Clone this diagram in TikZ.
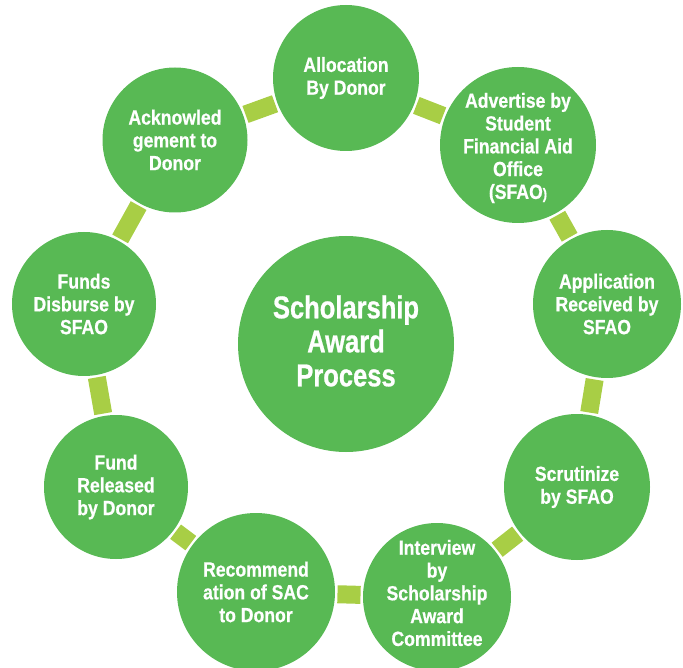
\documentclass[tikz,border=0pt]{standalone}
\usepackage{fontspec}
\newfontfamily\outfont{Liberation Sans Bold}[FakeStretch=0.86,FakeBold=0.6]
\newfontfamily\cenfont{Liberation Sans Bold}[FakeStretch=0.81,FakeBold=0.8]
\usetikzlibrary{backgrounds}
\definecolor{bubgreen}{RGB}{88,185,84}
\definecolor{connlime}{RGB}{168,206,69}
\tikzset{
  bub/.style={circle, fill=bubgreen, inner sep=0pt, outer sep=0pt, minimum size=#1},
  bubtext/.style={text=white, align=center, inner sep=0pt, font=\outfont\fontsize{20.5}{22.8}\selectfont},
  centext/.style={text=white, align=center, inner sep=0pt, font=\cenfont\fontsize{31.5}{34}\selectfont},
  conn/.style={draw=connlime, line width=18pt, shorten <=2.5pt, shorten >=2.5pt}
}
\begin{document}
\begin{tikzpicture}[x=1pt,y=-1pt]
\useasboundingbox (0,0) rectangle (683,668);
% circles
\node[bub=146pt] (c1) at (346,78) {};
\node[bub=156pt] (c2) at (518,145) {};
\node[bub=148pt] (c3) at (607,304) {};
\node[bub=146pt] (c4) at (577,487) {};
\node[bub=148pt] (c5) at (437,597) {};
\node[bub=158pt] (c6) at (256,592) {};
\node[bub=144pt] (c7) at (116,487) {};
\node[bub=144pt] (c8) at (84,304) {};
\node[bub=145pt] (c9) at (175,140) {};
\node[bub=216pt] (c0) at (346,344) {};
% texts
\node[bubtext] (t1) at (c1) {Allocation\\By Donor};
\node[bubtext] (t2) at ([yshift=-3pt]c2) {Advertise by\\Student\\Financial Aid\\Office\\(SFAO{\fontsize{15}{15}\selectfont)}};
\node[bubtext] (t3) at (c3) {Application\\Received by\\SFAO};
\node[bubtext] (t4) at (c4) {Scrutinize\\by SFAO};
\node[bubtext] (t5) at ([yshift=4pt]c5) {Interview\\by\\Scholarship\\Award\\Committee};
\node[bubtext] (t6) at (c6) {Recommend\\ation of SAC\\to Donor};
\node[bubtext] (t7) at (c7) {Fund\\Released\\by Donor};
\node[bubtext] (t8) at (c8) {Funds\\Disburse by\\SFAO};
\node[bubtext] (t9) at (c9) {Acknowled\\gement to\\Donor};
\node[centext] (t0) at ([yshift=3pt]c0) {Scholarship\\Award\\Process};
% connectors
\begin{pgfonlayer}{background}
\draw[conn] (c1) -- (c2);
\draw[conn] (c2) -- (c3);
\draw[conn] (c3) -- (c4);
\draw[conn] (c4) -- (c5);
\draw[conn] (c5) -- (c6);
\draw[conn] (c6) -- (c7);
\draw[conn] (c7) -- (c8);
\draw[conn] (c8) -- (c9);
\draw[conn] (c9) -- (c1);
\end{pgfonlayer}
\end{tikzpicture}
\end{document}
